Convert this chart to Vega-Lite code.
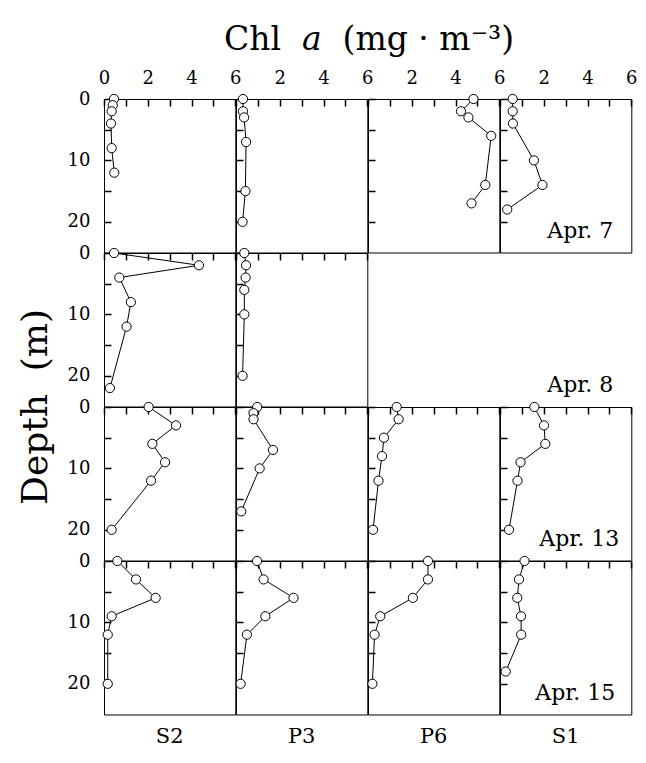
{
"$schema":"https://vega.github.io/schema/vega-lite/v6.json",
"padding":{"left":16,"top":23,"right":5,"bottom":5},
"background":"white",
"data":{"values":[
{"date":"Apr. 7","station":"S2","depth":0,"chl":0.46},{"date":"Apr. 7","station":"S2","depth":1,"chl":0.40},{"date":"Apr. 7","station":"S2","depth":2,"chl":0.35},{"date":"Apr. 7","station":"S2","depth":4,"chl":0.32},{"date":"Apr. 7","station":"S2","depth":8,"chl":0.35},{"date":"Apr. 7","station":"S2","depth":12,"chl":0.47},
{"date":"Apr. 7","station":"P3","depth":0,"chl":0.32},{"date":"Apr. 7","station":"P3","depth":2,"chl":0.32},{"date":"Apr. 7","station":"P3","depth":3,"chl":0.37},{"date":"Apr. 7","station":"P3","depth":7,"chl":0.46},{"date":"Apr. 7","station":"P3","depth":15,"chl":0.43},{"date":"Apr. 7","station":"P3","depth":20,"chl":0.30},
{"date":"Apr. 7","station":"P6","depth":0,"chl":4.82},{"date":"Apr. 7","station":"P6","depth":2,"chl":4.25},{"date":"Apr. 7","station":"P6","depth":3,"chl":4.59},{"date":"Apr. 7","station":"P6","depth":6,"chl":5.63},{"date":"Apr. 7","station":"P6","depth":14,"chl":5.36},{"date":"Apr. 7","station":"P6","depth":17,"chl":4.73},
{"date":"Apr. 7","station":"S1","depth":0,"chl":0.58},{"date":"Apr. 7","station":"S1","depth":2,"chl":0.58},{"date":"Apr. 7","station":"S1","depth":4,"chl":0.59},{"date":"Apr. 7","station":"S1","depth":10,"chl":1.55},{"date":"Apr. 7","station":"S1","depth":14,"chl":1.94},{"date":"Apr. 7","station":"S1","depth":18,"chl":0.33},
{"date":"Apr. 8","station":"S2","depth":0,"chl":0.46},{"date":"Apr. 8","station":"S2","depth":2,"chl":4.34},{"date":"Apr. 8","station":"S2","depth":4,"chl":0.70},{"date":"Apr. 8","station":"S2","depth":8,"chl":1.23},{"date":"Apr. 8","station":"S2","depth":12,"chl":1.03},{"date":"Apr. 8","station":"S2","depth":22,"chl":0.27},
{"date":"Apr. 8","station":"P3","depth":0,"chl":0.38},{"date":"Apr. 8","station":"P3","depth":2,"chl":0.46},{"date":"Apr. 8","station":"P3","depth":4,"chl":0.44},{"date":"Apr. 8","station":"P3","depth":6,"chl":0.38},{"date":"Apr. 8","station":"P3","depth":10,"chl":0.38},{"date":"Apr. 8","station":"P3","depth":20,"chl":0.30},
{"date":"Apr. 13","station":"S2","depth":0,"chl":2.04},{"date":"Apr. 13","station":"S2","depth":3,"chl":3.29},{"date":"Apr. 13","station":"S2","depth":6,"chl":2.21},{"date":"Apr. 13","station":"S2","depth":9,"chl":2.79},{"date":"Apr. 13","station":"S2","depth":12,"chl":2.15},{"date":"Apr. 13","station":"S2","depth":20,"chl":0.35},
{"date":"Apr. 13","station":"P3","depth":0,"chl":0.97},{"date":"Apr. 13","station":"P3","depth":1,"chl":0.80},{"date":"Apr. 13","station":"P3","depth":2,"chl":0.80},{"date":"Apr. 13","station":"P3","depth":7,"chl":1.69},{"date":"Apr. 13","station":"P3","depth":10,"chl":1.08},{"date":"Apr. 13","station":"P3","depth":17,"chl":0.24},
{"date":"Apr. 13","station":"P6","depth":0,"chl":1.31},{"date":"Apr. 13","station":"P6","depth":2,"chl":1.40},{"date":"Apr. 13","station":"P6","depth":5,"chl":0.73},{"date":"Apr. 13","station":"P6","depth":8,"chl":0.64},{"date":"Apr. 13","station":"P6","depth":12,"chl":0.48},{"date":"Apr. 13","station":"P6","depth":20,"chl":0.23},
{"date":"Apr. 13","station":"S1","depth":0,"chl":1.57},{"date":"Apr. 13","station":"S1","depth":3,"chl":2.01},{"date":"Apr. 13","station":"S1","depth":6,"chl":2.07},{"date":"Apr. 13","station":"S1","depth":9,"chl":0.94},{"date":"Apr. 13","station":"S1","depth":12,"chl":0.80},{"date":"Apr. 13","station":"S1","depth":20,"chl":0.41},
{"date":"Apr. 15","station":"S2","depth":0,"chl":0.61},{"date":"Apr. 15","station":"S2","depth":3,"chl":1.46},{"date":"Apr. 15","station":"S2","depth":6,"chl":2.36},{"date":"Apr. 15","station":"S2","depth":9,"chl":0.35},{"date":"Apr. 15","station":"S2","depth":12,"chl":0.17},{"date":"Apr. 15","station":"S2","depth":20,"chl":0.17},
{"date":"Apr. 15","station":"P3","depth":0,"chl":0.96},{"date":"Apr. 15","station":"P3","depth":3,"chl":1.26},{"date":"Apr. 15","station":"P3","depth":6,"chl":2.63},{"date":"Apr. 15","station":"P3","depth":9,"chl":1.34},{"date":"Apr. 15","station":"P3","depth":12,"chl":0.50},{"date":"Apr. 15","station":"P3","depth":20,"chl":0.21},
{"date":"Apr. 15","station":"P6","depth":0,"chl":2.74},{"date":"Apr. 15","station":"P6","depth":3,"chl":2.74},{"date":"Apr. 15","station":"P6","depth":6,"chl":2.05},{"date":"Apr. 15","station":"P6","depth":9,"chl":0.56},{"date":"Apr. 15","station":"P6","depth":12,"chl":0.30},{"date":"Apr. 15","station":"P6","depth":20,"chl":0.20},
{"date":"Apr. 15","station":"S1","depth":0,"chl":1.12},{"date":"Apr. 15","station":"S1","depth":3,"chl":0.87},{"date":"Apr. 15","station":"S1","depth":6,"chl":0.79},{"date":"Apr. 15","station":"S1","depth":9,"chl":0.96},{"date":"Apr. 15","station":"S1","depth":12,"chl":0.97},{"date":"Apr. 15","station":"S1","depth":18,"chl":0.26}
]},
"title":{"text":"Chl\u00a0\u00a0𝑎\u00a0\u00a0(mg\u00a0·\u00a0m⁻³)","fontSize":33,"offset":12,"anchor":"middle","dx":42,"font":"DejaVu Serif","fontWeight":"normal"},
"bounds":"flush",
"spacing":0,
"columns":4,
"concat":[
 {"width":131.3,"height":153.5,"transform":[{"filter":"datum.date === 'Apr. 7' && datum.station === 'S2'"}],"resolve":{"axis":{"x":"independent","y":"independent"}},
  "layer":[
   {"mark":{"type":"line","color":"black","strokeWidth":1},"encoding":{"x":{"field":"chl","type":"quantitative","scale":{"domain":[0,6],"nice":false,"zero":false},"axis":{"orient":"bottom","offset":-153.5,"values":[0,1,2,3,4,5,6],"labels":false,"title":null}},"y":{"field":"depth","type":"quantitative","scale":{"domain":[0,25],"reverse":true,"nice":false},"axis":{"orient":"right","offset":-131.3,"values":[0,5,10,15,20],"labels":false,"title":null}},"order":{"field":"depth","type":"quantitative"}}},
   {"mark":{"type":"point","shape":"circle","filled":true,"fill":"white","stroke":"black","strokeWidth":1,"size":85,"opacity":1},"encoding":{"x":{"field":"chl","type":"quantitative","axis":{"orient":"top","values":[0,2,4,6],"ticks":false,"labelFlush":false,"labelPadding":12,"title":null}},"y":{"field":"depth","type":"quantitative","axis":{"orient":"left","values":[0,10,20],"ticks":false,"labelPadding":14,"title":null}}}}]},
 {"width":131.3,"height":153.5,"transform":[{"filter":"datum.date === 'Apr. 7' && datum.station === 'P3'"}],"resolve":{"axis":{"x":"independent","y":"independent"}},
  "layer":[
   {"mark":{"type":"line","color":"black","strokeWidth":1},"encoding":{"x":{"field":"chl","type":"quantitative","scale":{"domain":[0,6],"nice":false,"zero":false},"axis":{"orient":"bottom","offset":-153.5,"values":[0,1,2,3,4,5,6],"labels":false,"title":null}},"y":{"field":"depth","type":"quantitative","scale":{"domain":[0,25],"reverse":true,"nice":false},"axis":{"orient":"right","offset":-131.3,"values":[0,5,10,15,20],"labels":false,"title":null}},"order":{"field":"depth","type":"quantitative"}}},
   {"mark":{"type":"point","shape":"circle","filled":true,"fill":"white","stroke":"black","strokeWidth":1,"size":85,"opacity":1},"encoding":{"x":{"field":"chl","type":"quantitative","axis":{"orient":"top","values":[2,4,6],"ticks":false,"labelFlush":false,"labelPadding":12,"title":null}},"y":{"field":"depth","type":"quantitative","axis":null}}}]},
 {"width":131.3,"height":153.5,"transform":[{"filter":"datum.date === 'Apr. 7' && datum.station === 'P6'"}],"resolve":{"axis":{"x":"independent","y":"independent"}},
  "layer":[
   {"mark":{"type":"line","color":"black","strokeWidth":1},"encoding":{"x":{"field":"chl","type":"quantitative","scale":{"domain":[0,6],"nice":false,"zero":false},"axis":{"orient":"bottom","offset":-153.5,"values":[0,1,2,3,4,5,6],"labels":false,"title":null}},"y":{"field":"depth","type":"quantitative","scale":{"domain":[0,25],"reverse":true,"nice":false},"axis":{"orient":"right","offset":-131.3,"values":[0,5,10,15,20],"labels":false,"title":null}},"order":{"field":"depth","type":"quantitative"}}},
   {"mark":{"type":"point","shape":"circle","filled":true,"fill":"white","stroke":"black","strokeWidth":1,"size":85,"opacity":1},"encoding":{"x":{"field":"chl","type":"quantitative","axis":{"orient":"top","values":[2,4,6],"ticks":false,"labelFlush":false,"labelPadding":12,"title":null}},"y":{"field":"depth","type":"quantitative","axis":null}}}]},
 {"width":131.3,"height":153.5,"transform":[{"filter":"datum.date === 'Apr. 7' && datum.station === 'S1'"}],"resolve":{"axis":{"x":"independent","y":"independent"}},
  "layer":[
   {"mark":{"type":"line","color":"black","strokeWidth":1},"encoding":{"x":{"field":"chl","type":"quantitative","scale":{"domain":[0,6],"nice":false,"zero":false},"axis":{"orient":"bottom","offset":-153.5,"values":[0,1,2,3,4,5,6],"labels":false,"title":null}},"y":{"field":"depth","type":"quantitative","scale":{"domain":[0,25],"reverse":true,"nice":false},"axis":{"orient":"right","offset":-131.3,"values":[0,5,10,15,20],"labels":false,"title":null}},"order":{"field":"depth","type":"quantitative"}}},
   {"mark":{"type":"point","shape":"circle","filled":true,"fill":"white","stroke":"black","strokeWidth":1,"size":85,"opacity":1},"encoding":{"x":{"field":"chl","type":"quantitative","axis":{"orient":"top","values":[2,4,6],"ticks":false,"labelFlush":false,"labelPadding":12,"title":null}},"y":{"field":"depth","type":"quantitative","axis":null}}},
   {"transform":[{"filter":"datum.depth === 0"}],"mark":{"type":"text","align":"right","baseline":"alphabetic","font":"DejaVu Serif","fontSize":22,"dx":-18,"dy":-15},"encoding":{"x":{"datum":6,"type":"quantitative","axis":null},"y":{"datum":25,"type":"quantitative","axis":null},"text":{"field":"date"}}}]},
 {"width":131.3,"height":153.5,"transform":[{"filter":"datum.date === 'Apr. 8' && datum.station === 'S2'"}],"resolve":{"axis":{"x":"independent","y":"independent"}},
  "layer":[
   {"mark":{"type":"line","color":"black","strokeWidth":1},"encoding":{"x":{"field":"chl","type":"quantitative","scale":{"domain":[0,6],"nice":false,"zero":false},"axis":{"orient":"bottom","offset":-153.5,"values":[0,1,2,3,4,5,6],"labels":false,"title":null}},"y":{"field":"depth","type":"quantitative","scale":{"domain":[0,25],"reverse":true,"nice":false},"axis":{"orient":"right","offset":-131.3,"values":[0,5,10,15,20],"labels":false,"title":null}},"order":{"field":"depth","type":"quantitative"}}},
   {"mark":{"type":"point","shape":"circle","filled":true,"fill":"white","stroke":"black","strokeWidth":1,"size":85,"opacity":1},"encoding":{"x":{"field":"chl","type":"quantitative","axis":null},"y":{"field":"depth","type":"quantitative","axis":{"orient":"left","values":[0,10,20],"ticks":false,"labelPadding":14,"title":"Depth\u00a0\u00a0(m)","titleFont":"DejaVu Serif","titleFontWeight":"normal","titleFontSize":36,"titleX":-69,"titleY":153.5,"titleAngle":-90,"titleBaseline":"middle","titleAlign":"center"}}}}]},
 {"width":131.3,"height":153.5,"transform":[{"filter":"datum.date === 'Apr. 8' && datum.station === 'P3'"}],"resolve":{"axis":{"x":"independent","y":"independent"}},
  "layer":[
   {"mark":{"type":"line","color":"black","strokeWidth":1},"encoding":{"x":{"field":"chl","type":"quantitative","scale":{"domain":[0,6],"nice":false,"zero":false},"axis":{"orient":"bottom","offset":-153.5,"values":[0,1,2,3,4,5,6],"labels":false,"title":null}},"y":{"field":"depth","type":"quantitative","scale":{"domain":[0,25],"reverse":true,"nice":false},"axis":{"orient":"right","offset":-131.3,"values":[0,5,10,15,20],"labels":false,"title":null}},"order":{"field":"depth","type":"quantitative"}}},
   {"mark":{"type":"point","shape":"circle","filled":true,"fill":"white","stroke":"black","strokeWidth":1,"size":85,"opacity":1},"encoding":{"x":{"field":"chl","type":"quantitative","axis":null},"y":{"field":"depth","type":"quantitative","axis":null}}}]},
 {"width":131.3,"height":153.5,"view":{"stroke":null},"transform":[{"filter":"false"}],"mark":{"type":"text"},"encoding":{"text":{"field":"date"}}},
 {"width":131.3,"height":153.5,"view":{"stroke":null},"transform":[{"filter":"datum.date === 'Apr. 8' && datum.station === 'S2' && datum.depth === 0"}],
  "mark":{"type":"text","align":"right","baseline":"alphabetic","font":"DejaVu Serif","fontSize":22,"dx":-18,"dy":-15},
  "encoding":{"x":{"datum":6,"type":"quantitative","scale":{"domain":[0,6],"nice":false,"zero":false},"axis":null},"y":{"datum":25,"type":"quantitative","scale":{"domain":[0,25],"reverse":true,"nice":false},"axis":null},"text":{"field":"date"}}},
 {"width":131.3,"height":153.5,"transform":[{"filter":"datum.date === 'Apr. 13' && datum.station === 'S2'"}],"resolve":{"axis":{"x":"independent","y":"independent"}},
  "layer":[
   {"mark":{"type":"line","color":"black","strokeWidth":1},"encoding":{"x":{"field":"chl","type":"quantitative","scale":{"domain":[0,6],"nice":false,"zero":false},"axis":{"orient":"bottom","offset":-153.5,"values":[0,1,2,3,4,5,6],"labels":false,"title":null}},"y":{"field":"depth","type":"quantitative","scale":{"domain":[0,25],"reverse":true,"nice":false},"axis":{"orient":"right","offset":-131.3,"values":[0,5,10,15,20],"labels":false,"title":null}},"order":{"field":"depth","type":"quantitative"}}},
   {"mark":{"type":"point","shape":"circle","filled":true,"fill":"white","stroke":"black","strokeWidth":1,"size":85,"opacity":1},"encoding":{"x":{"field":"chl","type":"quantitative","axis":null},"y":{"field":"depth","type":"quantitative","axis":{"orient":"left","values":[0,10,20],"ticks":false,"labelPadding":14,"title":null}}}}]},
 {"width":131.3,"height":153.5,"transform":[{"filter":"datum.date === 'Apr. 13' && datum.station === 'P3'"}],"resolve":{"axis":{"x":"independent","y":"independent"}},
  "layer":[
   {"mark":{"type":"line","color":"black","strokeWidth":1},"encoding":{"x":{"field":"chl","type":"quantitative","scale":{"domain":[0,6],"nice":false,"zero":false},"axis":{"orient":"bottom","offset":-153.5,"values":[0,1,2,3,4,5,6],"labels":false,"title":null}},"y":{"field":"depth","type":"quantitative","scale":{"domain":[0,25],"reverse":true,"nice":false},"axis":{"orient":"right","offset":-131.3,"values":[0,5,10,15,20],"labels":false,"title":null}},"order":{"field":"depth","type":"quantitative"}}},
   {"mark":{"type":"point","shape":"circle","filled":true,"fill":"white","stroke":"black","strokeWidth":1,"size":85,"opacity":1},"encoding":{"x":{"field":"chl","type":"quantitative","axis":null},"y":{"field":"depth","type":"quantitative","axis":null}}}]},
 {"width":131.3,"height":153.5,"transform":[{"filter":"datum.date === 'Apr. 13' && datum.station === 'P6'"}],"resolve":{"axis":{"x":"independent","y":"independent"}},
  "layer":[
   {"mark":{"type":"line","color":"black","strokeWidth":1},"encoding":{"x":{"field":"chl","type":"quantitative","scale":{"domain":[0,6],"nice":false,"zero":false},"axis":{"orient":"bottom","offset":-153.5,"values":[0,1,2,3,4,5,6],"labels":false,"title":null}},"y":{"field":"depth","type":"quantitative","scale":{"domain":[0,25],"reverse":true,"nice":false},"axis":{"orient":"right","offset":-131.3,"values":[0,5,10,15,20],"labels":false,"title":null}},"order":{"field":"depth","type":"quantitative"}}},
   {"mark":{"type":"point","shape":"circle","filled":true,"fill":"white","stroke":"black","strokeWidth":1,"size":85,"opacity":1},"encoding":{"x":{"field":"chl","type":"quantitative","axis":null},"y":{"field":"depth","type":"quantitative","axis":null}}}]},
 {"width":131.3,"height":153.5,"transform":[{"filter":"datum.date === 'Apr. 13' && datum.station === 'S1'"}],"resolve":{"axis":{"x":"independent","y":"independent"}},
  "layer":[
   {"mark":{"type":"line","color":"black","strokeWidth":1},"encoding":{"x":{"field":"chl","type":"quantitative","scale":{"domain":[0,6],"nice":false,"zero":false},"axis":{"orient":"bottom","offset":-153.5,"values":[0,1,2,3,4,5,6],"labels":false,"title":null}},"y":{"field":"depth","type":"quantitative","scale":{"domain":[0,25],"reverse":true,"nice":false},"axis":{"orient":"right","offset":-131.3,"values":[0,5,10,15,20],"labels":false,"title":null}},"order":{"field":"depth","type":"quantitative"}}},
   {"mark":{"type":"point","shape":"circle","filled":true,"fill":"white","stroke":"black","strokeWidth":1,"size":85,"opacity":1},"encoding":{"x":{"field":"chl","type":"quantitative","axis":null},"y":{"field":"depth","type":"quantitative","axis":null}}},
   {"transform":[{"filter":"datum.depth === 0"}],"mark":{"type":"text","align":"right","baseline":"alphabetic","font":"DejaVu Serif","fontSize":22,"dx":-12,"dy":-15},"encoding":{"x":{"datum":6,"type":"quantitative","axis":null},"y":{"datum":25,"type":"quantitative","axis":null},"text":{"field":"date"}}}]},
 {"width":131.3,"height":153.5,"title":{"text":"S2","orient":"bottom","font":"DejaVu Serif","fontWeight":"normal","fontSize":21,"offset":11},"transform":[{"filter":"datum.date === 'Apr. 15' && datum.station === 'S2'"}],"resolve":{"axis":{"x":"independent","y":"independent"}},
  "layer":[
   {"mark":{"type":"line","color":"black","strokeWidth":1},"encoding":{"x":{"field":"chl","type":"quantitative","scale":{"domain":[0,6],"nice":false,"zero":false},"axis":{"orient":"bottom","offset":-153.5,"values":[0,1,2,3,4,5,6],"labels":false,"title":null}},"y":{"field":"depth","type":"quantitative","scale":{"domain":[0,25],"reverse":true,"nice":false},"axis":{"orient":"right","offset":-131.3,"values":[0,5,10,15,20],"labels":false,"title":null}},"order":{"field":"depth","type":"quantitative"}}},
   {"mark":{"type":"point","shape":"circle","filled":true,"fill":"white","stroke":"black","strokeWidth":1,"size":85,"opacity":1},"encoding":{"x":{"field":"chl","type":"quantitative","axis":null},"y":{"field":"depth","type":"quantitative","axis":{"orient":"left","values":[0,10,20],"ticks":false,"labelPadding":14,"title":null}}}}]},
 {"width":131.3,"height":153.5,"title":{"text":"P3","orient":"bottom","font":"DejaVu Serif","fontWeight":"normal","fontSize":21,"offset":11},"transform":[{"filter":"datum.date === 'Apr. 15' && datum.station === 'P3'"}],"resolve":{"axis":{"x":"independent","y":"independent"}},
  "layer":[
   {"mark":{"type":"line","color":"black","strokeWidth":1},"encoding":{"x":{"field":"chl","type":"quantitative","scale":{"domain":[0,6],"nice":false,"zero":false},"axis":{"orient":"bottom","offset":-153.5,"values":[0,1,2,3,4,5,6],"labels":false,"title":null}},"y":{"field":"depth","type":"quantitative","scale":{"domain":[0,25],"reverse":true,"nice":false},"axis":{"orient":"right","offset":-131.3,"values":[0,5,10,15,20],"labels":false,"title":null}},"order":{"field":"depth","type":"quantitative"}}},
   {"mark":{"type":"point","shape":"circle","filled":true,"fill":"white","stroke":"black","strokeWidth":1,"size":85,"opacity":1},"encoding":{"x":{"field":"chl","type":"quantitative","axis":null},"y":{"field":"depth","type":"quantitative","axis":null}}}]},
 {"width":131.3,"height":153.5,"title":{"text":"P6","orient":"bottom","font":"DejaVu Serif","fontWeight":"normal","fontSize":21,"offset":11},"transform":[{"filter":"datum.date === 'Apr. 15' && datum.station === 'P6'"}],"resolve":{"axis":{"x":"independent","y":"independent"}},
  "layer":[
   {"mark":{"type":"line","color":"black","strokeWidth":1},"encoding":{"x":{"field":"chl","type":"quantitative","scale":{"domain":[0,6],"nice":false,"zero":false},"axis":{"orient":"bottom","offset":-153.5,"values":[0,1,2,3,4,5,6],"labels":false,"title":null}},"y":{"field":"depth","type":"quantitative","scale":{"domain":[0,25],"reverse":true,"nice":false},"axis":{"orient":"right","offset":-131.3,"values":[0,5,10,15,20],"labels":false,"title":null}},"order":{"field":"depth","type":"quantitative"}}},
   {"mark":{"type":"point","shape":"circle","filled":true,"fill":"white","stroke":"black","strokeWidth":1,"size":85,"opacity":1},"encoding":{"x":{"field":"chl","type":"quantitative","axis":null},"y":{"field":"depth","type":"quantitative","axis":null}}}]},
 {"width":131.3,"height":153.5,"title":{"text":"S1","orient":"bottom","font":"DejaVu Serif","fontWeight":"normal","fontSize":21,"offset":11},"transform":[{"filter":"datum.date === 'Apr. 15' && datum.station === 'S1'"}],"resolve":{"axis":{"x":"independent","y":"independent"}},
  "layer":[
   {"mark":{"type":"line","color":"black","strokeWidth":1},"encoding":{"x":{"field":"chl","type":"quantitative","scale":{"domain":[0,6],"nice":false,"zero":false},"axis":{"orient":"bottom","offset":-153.5,"values":[0,1,2,3,4,5,6],"labels":false,"title":null}},"y":{"field":"depth","type":"quantitative","scale":{"domain":[0,25],"reverse":true,"nice":false},"axis":{"orient":"right","offset":-131.3,"values":[0,5,10,15,20],"labels":false,"title":null}},"order":{"field":"depth","type":"quantitative"}}},
   {"mark":{"type":"point","shape":"circle","filled":true,"fill":"white","stroke":"black","strokeWidth":1,"size":85,"opacity":1},"encoding":{"x":{"field":"chl","type":"quantitative","axis":null},"y":{"field":"depth","type":"quantitative","axis":null}}},
   {"transform":[{"filter":"datum.depth === 0"}],"mark":{"type":"text","align":"right","baseline":"alphabetic","font":"DejaVu Serif","fontSize":22,"dx":-16,"dy":-15},"encoding":{"x":{"datum":6,"type":"quantitative","axis":null},"y":{"datum":25,"type":"quantitative","axis":null},"text":{"field":"date"}}}]}
],
"config":{"view":{"stroke":"black","strokeWidth":1},
 "axis":{"tickSize":7,"tickColor":"black","tickWidth":1.5,"tickOpacity":1,"domain":false,"grid":false,"labelFont":"DejaVu Serif","labelFontSize":18,"labelColor":"black","titleFont":"DejaVu Serif","titleFontWeight":"normal","titleColor":"black"},
 "title":{"font":"DejaVu Serif","fontWeight":"normal","color":"black"},
 "text":{"font":"DejaVu Serif","color":"black"},
 "concat":{"spacing":0}}
}
